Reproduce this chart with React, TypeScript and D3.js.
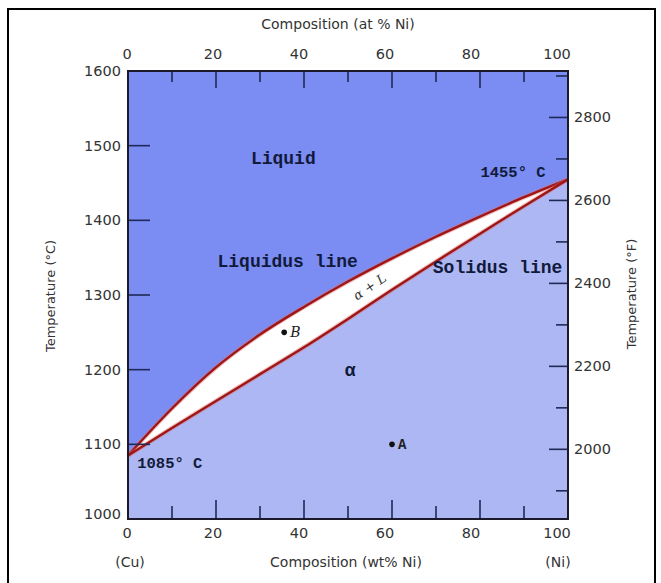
import React, { useRef, useEffect } from "react";
import * as d3 from "d3";

// composition (wt% Ni) and the two phase boundaries
const wtNi = [0, 10, 20, 30, 40, 50, 60, 70, 80, 90, 100];
const liquidusC = [1085, 1148, 1203, 1247, 1284, 1318, 1349, 1378, 1405, 1431, 1455];
const solidusC = [1085, 1122, 1158, 1194, 1230, 1268, 1307, 1345, 1382, 1419, 1455];

// axis ticks
const compLabels = [0, 20, 40, 60, 80, 100];
const compMinor = [10, 30, 50, 70, 90];
const tempCTicks = [1000, 1100, 1200, 1300, 1400, 1500, 1600];
const tempFMajor = [2000, 2200, 2400, 2600, 2800];
const tempFMinor = [1900, 2100, 2300, 2500, 2700, 2900];

// marked points
const points = [
  { name: "B", wt: 35.5, t: 1250 },
  { name: "A", wt: 60, t: 1100 },
];

const LIQUID = "#7b8cf3";
const ALPHA = "#adb7f3";
const CURVE = "#9e1616";
const AXIS_FONT = "'DejaVu Sans', sans-serif";
const NOTE_FONT = "'Liberation Mono', monospace";

function PhaseDiagram() {
  const ref = useRef<SVGSVGElement>(null);

  useEffect(() => {
    const svg = d3.select(ref.current);
    svg.selectAll("*").remove();

    const x = d3.scaleLinear().domain([0, 100]).range([128, 568]);
    const xText = d3.scaleLinear().domain([0, 100]).range([127, 557]);
    const y = d3.scaleLinear().domain([1000, 1600]).range([519, 71]);
    const yF = d3
      .scaleLinear()
      .domain(y.domain().map((c) => (c * 9) / 5 + 32))
      .range(y.range());

    const [x0, x1] = x.range();
    const [yb, yt] = y.range();

    // outer frame
    svg.append("rect")
      .attr("x", 8).attr("y", 9).attr("width", 647).attr("height", 600)
      .attr("fill", "white").attr("stroke", "#000").attr("stroke-width", 2);

    const liq = wtNi.map((w, i) => [w, liquidusC[i]] as [number, number]);
    const sol = wtNi.map((w, i) => [w, solidusC[i]] as [number, number]);

    // regions
    const liquidArea = d3.area<[number, number]>()
      .x((d) => x(d[0])).y0(yt).y1((d) => y(d[1]))
      .curve(d3.curveMonotoneX);
    const alphaArea = d3.area<[number, number]>()
      .x((d) => x(d[0])).y0(yb).y1((d) => y(d[1]))
      .curve(d3.curveMonotoneX);

    svg.append("rect")
      .attr("x", x0).attr("y", yt).attr("width", x1 - x0).attr("height", yb - yt)
      .attr("fill", "white");
    svg.append("path").datum(liq).attr("fill", LIQUID).attr("d", liquidArea);
    svg.append("path").datum(sol).attr("fill", ALPHA).attr("d", alphaArea);

    const line = d3.line<[number, number]>()
      .x((d) => x(d[0])).y((d) => y(d[1]))
      .curve(d3.curveMonotoneX);
    [liq, sol].forEach((data) => {
      svg.append("path").datum(data)
        .attr("fill", "none").attr("stroke", "#e07070").attr("stroke-width", 4.5)
        .attr("stroke-opacity", 0.45).attr("d", line);
      svg.append("path").datum(data)
        .attr("fill", "none").attr("stroke", CURVE).attr("stroke-width", 2.4)
        .attr("d", line);
    });

    // ticks
    const tick = (x1_: number, y1_: number, x2_: number, y2_: number) =>
      svg.append("line")
        .attr("x1", x1_).attr("y1", y1_).attr("x2", x2_).attr("y2", y2_)
        .attr("stroke", "#1e2a55").attr("stroke-width", 1.6);

    compLabels.slice(1, -1).forEach((v) => {
      tick(x(v), yt, x(v), yt + 17);
      tick(x(v), yb, x(v), yb - 19);
    });
    compMinor.forEach((v) => {
      tick(x(v), yt, x(v), yt + 11);
      tick(x(v), yb, x(v), yb - 13);
    });
    tempCTicks.slice(1, -1).forEach((v) => tick(x0, y(v), x0 + 22, y(v)));
    tempFMajor.forEach((v) => tick(x1, yF(v), x1 - 19, yF(v)));
    tempFMinor.forEach((v) => tick(x1, yF(v), x1 - 12, yF(v)));

    // plot border
    svg.append("rect")
      .attr("x", x0).attr("y", yt).attr("width", x1 - x0).attr("height", yb - yt)
      .attr("fill", "none").attr("stroke", "#1a1a2a").attr("stroke-width", 2);

    // tick labels
    const label = (t: string, lx: number, ly: number, anchor = "middle") =>
      svg.append("text")
        .attr("x", lx).attr("y", ly).attr("text-anchor", anchor)
        .attr("dominant-baseline", "central")
        .attr("font-family", AXIS_FONT).attr("font-size", 14.5)
        .attr("fill", "#333").text(t);

    compLabels.forEach((v) => {
      label(String(v), xText(v), 54);
      label(String(v), xText(v), 533);
    });
    tempCTicks.forEach((v) => label(String(v), 121, y(v) - (v === 1000 ? 5 : 0), "end"));
    tempFMajor.forEach((v) => label(String(v), 574, yF(v), "start"));

    // axis titles
    const title = (t: string, tx: number, ty: number, rot = 0, size = 14) =>
      svg.append("text")
        .attr("transform", `translate(${tx},${ty}) rotate(${rot})`)
        .attr("text-anchor", "middle").attr("dominant-baseline", "central")
        .attr("font-family", AXIS_FONT).attr("font-size", size)
        .attr("fill", "#333").text(t);

    title("Composition  (at % Ni)", 338, 24);
    title("Composition (wt% Ni)", 346, 562);
    title("(Cu)", 130, 562);
    title("(Ni)", 558, 562);
    title("Temperature (°C)", 50, 296, -90, 13);
    title("Temperature (°F)", 631, 294, -90, 13);

    // annotations
    const note = (t: string, w: number, c: number, size = 18) =>
      svg.append("text")
        .attr("x", x(w)).attr("y", y(c)).attr("text-anchor", "middle")
        .attr("font-family", NOTE_FONT).attr("font-weight", "bold")
        .attr("font-size", size).attr("fill", "#111a3a").text(t);

    note("Liquid", 35.3, 1476);
    note("Liquidus line", 36.3, 1338);
    note("Solidus line", 84, 1330);
    note("1455° C", 87.5, 1458, 15.5);
    note("1085° C", 9.5, 1068, 15.5);
    note("α", 50.5, 1192, 18);

    svg.append("text")
      .attr("transform", `translate(${x(55.5)},${y(1306)}) rotate(-34)`)
      .attr("text-anchor", "middle")
      .attr("font-family", "'DejaVu Serif', serif").attr("font-style", "italic")
      .attr("font-size", 13).attr("fill", "#333").text("α + L");

    points.forEach((p) => {
      svg.append("circle")
        .attr("cx", x(p.wt)).attr("cy", y(p.t)).attr("r", 2.8).attr("fill", "#111");
      svg.append("text")
        .attr("x", x(p.wt) + 6).attr("y", y(p.t) + 5)
        .attr("font-family", p.name === "B" ? "'DejaVu Serif', serif" : NOTE_FONT)
        .attr("font-style", p.name === "B" ? "italic" : "normal")
        .attr("font-weight", p.name === "B" ? "normal" : "bold")
        .attr("font-size", 14).attr("fill", "#222").text(p.name);
    });
  }, []);

  return (
    <svg
      ref={ref}
      width={661}
      height={583}
      style={{ position: "absolute", left: 0, top: 0, background: "white" }}
    ></svg>
  );
}

export default function App() {
  return <PhaseDiagram />;
}
